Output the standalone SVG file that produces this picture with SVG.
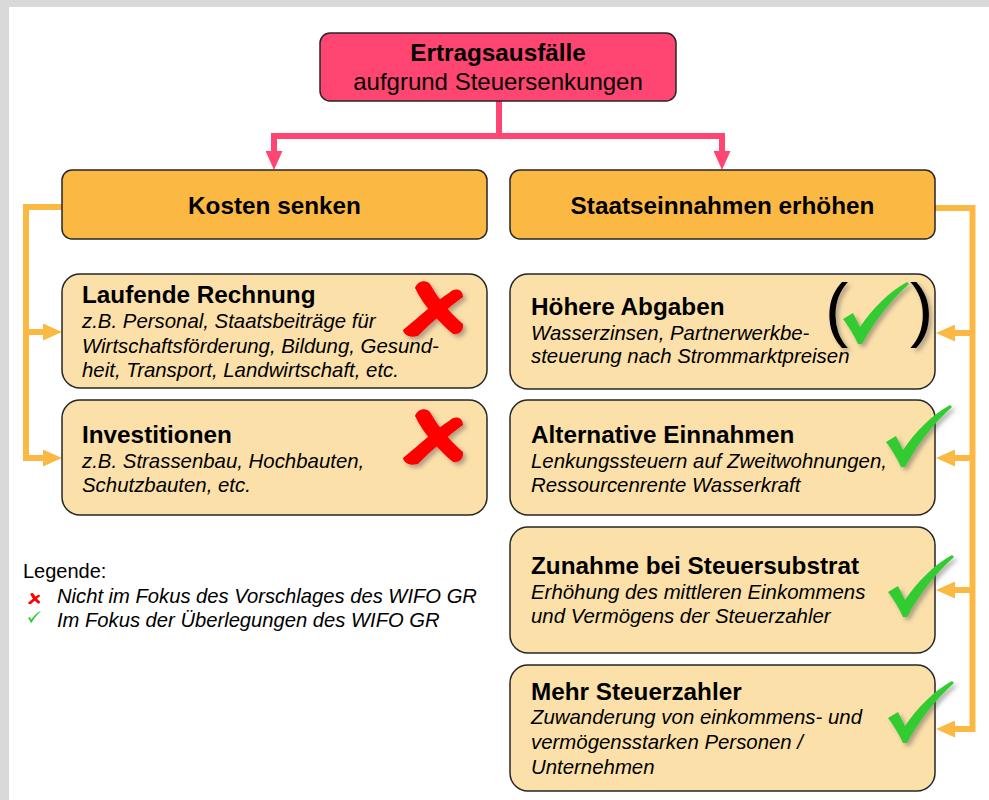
<svg xmlns="http://www.w3.org/2000/svg" xmlns:xlink="http://www.w3.org/1999/xlink" width="989" height="800" viewBox="0 0 989 800">
<style>
text{font-family:"Liberation Sans",Arial,sans-serif;fill:#000}
.t{font-size:24.3px;font-weight:bold}
.r{font-size:24px}
.i{font-size:20.4px;font-style:italic}
.lg{font-size:20px}
.c{text-anchor:middle}
.box{stroke:#262626;stroke-width:1.5}
.top{fill:#FF4571}
.org{fill:#FBB944}
.lt{fill:#FCE0AA}
.oc{fill:none;stroke:#FBB944;stroke-width:6}
.pc{fill:none;stroke:#FF4571;stroke-width:6}
.chk{fill:#33CC33}
.crs{fill:#FF0000}
</style>
<defs>
<filter id="sh" x="-20%" y="-20%" width="150%" height="150%">
<feDropShadow dx="3" dy="3" stdDeviation="2" flood-color="#555" flood-opacity="0.45"/>
</filter>
<marker id="ao" markerUnits="userSpaceOnUse" markerWidth="19" markerHeight="17" refX="0" refY="8.5" orient="auto">
<path d="M0,0 L19,8.5 L0,17 Z" fill="#FBB944"/>
</marker>
<marker id="ap" markerUnits="userSpaceOnUse" markerWidth="19" markerHeight="17" refX="0" refY="8.5" orient="auto">
<path d="M0,0 L19,8.5 L0,17 Z" fill="#FF4571"/>
</marker>
<g id="check">
<path class="chk" d="M0,37 L10,31 L17,45 C30,26 46,10 64,0 L66,2 C48,18 32,38 19,62 L15,62 C11,53 6,45 0,37 Z"/>
</g>
<g id="cross">
<path class="crs" d="M12,7 C14,0 23,-2 27,3 C35,17 46,31 60,43 C61,50 56,54 50,53 C37,42 21,26 12,7 Z"/>
<path class="crs" d="M46,12 C52,6 60,8 60,16 C45,27 29,41 15,55 C8,57 1,55 0,49 C15,37 31,21 46,12 Z"/>
</g>
</defs>
<rect x="0" y="0" width="989" height="800" fill="#fff"/>
<rect x="0" y="0" width="989" height="7" fill="#D9D9D9"/>
<rect x="0" y="0" width="9" height="800" fill="#D9D9D9"/>

<g id="connectors">
<path class="pc" d="M499,101 V136"/>
<path class="pc" d="M274,136 H722"/>
<path class="pc" d="M274,133 V151" marker-end="url(#ap)"/>
<path class="pc" d="M722,133 V151" marker-end="url(#ap)"/>
<path class="oc" d="M62,207 H26 V458 H43" marker-end="url(#ao)"/>
<path class="oc" d="M26,332 H43" marker-end="url(#ao)"/>
<path class="oc" d="M935,208 H972.5 V729 H955" marker-end="url(#ao)"/>
<path class="oc" d="M972.5,333 H955" marker-end="url(#ao)"/>
<path class="oc" d="M972.5,458 H955" marker-end="url(#ao)"/>
<path class="oc" d="M972.5,590 H955" marker-end="url(#ao)"/>
</g>

<g id="n_ertrag">
<rect class="box top" x="320" y="33" width="356" height="68" rx="10"/>
<text class="t c" x="498" y="61">Ertragsausfälle</text>
<text class="r c" x="498" y="90">aufgrund Steuersenkungen</text>
</g>

<g id="n_kosten">
<rect class="box org" x="62" y="170" width="425" height="69" rx="10"/>
<text class="t c" x="274.5" y="214">Kosten senken</text>
</g>

<g id="n_staat">
<rect class="box org" x="510" y="170" width="425" height="69" rx="10"/>
<text class="t c" x="722.5" y="214">Staatseinnahmen erhöhen</text>
</g>

<g id="n_laufend">
<rect class="box lt" x="62" y="274" width="425" height="114" rx="18"/>
<text class="t" x="82" y="303">Laufende Rechnung</text>
<text class="i" x="82" y="328">z.B. Personal, Staatsbeiträge für</text>
<text class="i" x="82" y="352.5">Wirtschaftsförderung, Bildung, Gesund-</text>
<text class="i" x="82" y="377">heit, Transport, Landwirtschaft, etc.</text>
<use xlink:href="#cross" transform="translate(403,281)" filter="url(#sh)"/>
</g>

<g id="n_invest">
<rect class="box lt" x="62" y="400" width="425" height="115" rx="18"/>
<text class="t" x="82" y="443">Investitionen</text>
<text class="i" x="82" y="468">z.B. Strassenbau, Hochbauten,</text>
<text class="i" x="82" y="492">Schutzbauten, etc.</text>
<use xlink:href="#cross" transform="translate(403,409)" filter="url(#sh)"/>
</g>

<g id="n_abgaben">
<rect class="box lt" x="510" y="274" width="425" height="115" rx="18"/>
<text class="t" x="531" y="315">Höhere Abgaben</text>
<text class="i" x="531" y="340">Wasserzinsen, Partnerwerkbe-</text>
<text class="i" x="531" y="363">steuerung nach Strommarktpreisen</text>
<g filter="url(#sh)">
<text x="825" y="333" style="font-size:70px">(</text>
<text x="910" y="333" style="font-size:70px">)</text>
</g>
<use xlink:href="#check" transform="translate(843,282)" filter="url(#sh)"/>
</g>

<g id="n_alternativ">
<rect class="box lt" x="510" y="400" width="425" height="115" rx="18"/>
<text class="t" x="531" y="443">Alternative Einnahmen</text>
<text class="i" x="531" y="468">Lenkungssteuern auf Zweitwohnungen,</text>
<text class="i" x="531" y="492">Ressourcenrente Wasserkraft</text>
<use xlink:href="#check" transform="translate(886,405)" filter="url(#sh)"/>
</g>

<g id="n_zunahme">
<rect class="box lt" x="510" y="527" width="425" height="126" rx="18"/>
<text class="t" x="531" y="574">Zunahme bei Steuersubstrat</text>
<text class="i" x="531" y="599">Erhöhung des mittleren Einkommens</text>
<text class="i" x="531" y="623">und Vermögens der Steuerzahler</text>
<use xlink:href="#check" transform="translate(888,555)" filter="url(#sh)"/>
</g>

<g id="n_mehr">
<rect class="box lt" x="510" y="665" width="425" height="126" rx="18"/>
<text class="t" x="531" y="700">Mehr Steuerzahler</text>
<text class="i" x="531" y="724">Zuwanderung von einkommens- und</text>
<text class="i" x="531" y="749">vermögensstarken Personen /</text>
<text class="i" x="531" y="774">Unternehmen</text>
<use xlink:href="#check" transform="translate(888,681)" filter="url(#sh)"/>
</g>

<g id="legend">
<text class="lg" x="23" y="578">Legende:</text>
<use xlink:href="#cross" transform="translate(28,593) scale(0.2)"/>
<text class="i" x="57" y="603" style="font-size:20.2px">Nicht im Fokus des Vorschlages des WIFO GR</text>
<use xlink:href="#check" transform="translate(28,611) scale(0.19)"/>
<text class="i" x="57" y="627" style="font-size:20.2px">Im Fokus der Überlegungen des WIFO GR</text>
</g>
</svg>
